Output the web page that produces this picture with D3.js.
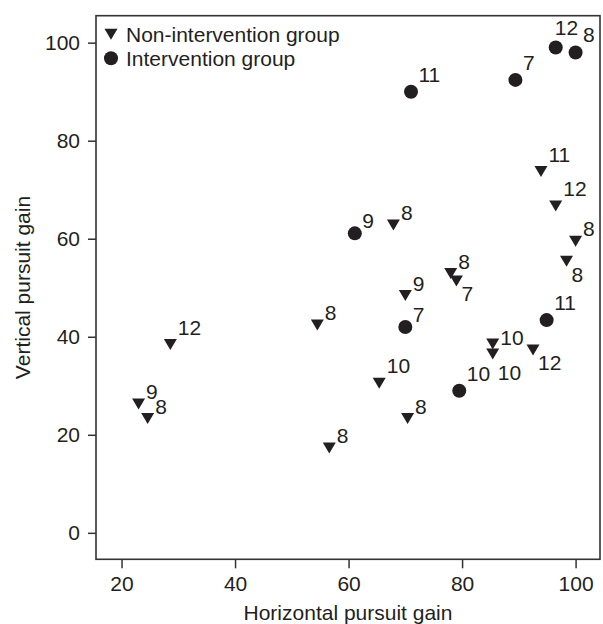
<!DOCTYPE html>
<html>
<head>
<meta charset="utf-8">
<script src="https://cdn.jsdelivr.net/npm/d3@7"></script>
<style>
  body { margin: 0; background: #fff; }
  svg { display: block; font-family: "Liberation Sans", Arial, sans-serif; }
</style>
</head>
<body>
<script>
// Non-intervention group (triangles): horizontal gain, vertical gain, age label
var nonX = [28.6, 23.0, 24.6, 54.5, 56.6, 65.4, 70.4, 70.0, 67.9, 78.0, 79.0, 85.4, 85.4, 92.5, 93.9, 96.5, 100.0, 98.4];
var nonY = [38.4, 26.3, 23.3, 42.4, 17.3, 30.5, 23.3, 48.4, 62.8, 52.9, 51.4, 38.5, 36.5, 37.3, 73.7, 66.7, 59.5, 55.4];
var nonLabel = ["12", "9", "8", "8", "8", "10", "8", "9", "8", "8", "7", "10", "10", "12", "11", "12", "8", "8"];
var nonPos = ["b", "a", "a", "a", "a", "b", "a", "a", "a", "a", "c", "e", "f", "c", "b", "b", "a", "c"];

// Intervention group (circles)
var intX = [71.0, 89.4, 96.5, 100.0, 61.1, 70.0, 94.9, 79.5];
var intY = [90.0, 92.4, 99.0, 98.0, 61.1, 42.0, 43.4, 29.0];
var intLabel = ["11", "7", "12", "8", "9", "7", "11", "10"];
var intPos = ["b", "b", "d", "b", "a", "a", "b", "b"];

var xTicks = [20, 40, 60, 80, 100];
var yTicks = [0, 20, 40, 60, 80, 100];
var legendLabels = ["Non-intervention group", "Intervention group"];

// label placement around a point (text anchor offset, baseline offset)
var labelOffset = {
  a: [7.5, -5],
  b: [7.5, -10],
  c: [5, 20.5],
  d: [-1, -12.5],
  e: [7.5, 1],
  f: [5, 26]
};

var svgWidth = 603;
var svgHeight = 624;
var ink = "#231f20";
var fontSize = 21;

// plot box
var box = { left: 96, right: 600, top: 15.7, bottom: 559.3 };

var svg = d3.select("body")
  .append("svg")
  .attr("width", svgWidth)
  .attr("height", svgHeight);

var xScale = d3.scaleLinear()
  .domain([15.5, 104.3])
  .range([box.left, box.right]);

var yScale = d3.scaleLinear()
  .domain([-5.4, 105.5])
  .range([box.bottom, box.top]);

// axes
var bottomAxis = d3.axisBottom(xScale).tickValues(xTicks).tickSize(9).tickPadding(8);
var leftAxis = d3.axisLeft(yScale).tickValues(yTicks).tickSize(8).tickPadding(8);

var xg = svg.append("g")
  .attr("transform", "translate(0," + box.bottom + ")")
  .call(bottomAxis);

var yg = svg.append("g")
  .attr("transform", "translate(" + box.left + ",0)")
  .call(leftAxis);

[xg, yg].forEach(function (g) {
  g.select(".domain").remove();
  g.selectAll("line").attr("stroke", "#333").attr("stroke-width", 1.5);
  g.selectAll("text")
    .attr("fill", ink)
    .attr("font-size", fontSize)
    .attr("font-family", "Liberation Sans, Arial, sans-serif");
});

// frame
svg.append("rect")
  .attr("x", box.left)
  .attr("y", box.top)
  .attr("width", box.right - box.left)
  .attr("height", box.bottom - box.top)
  .attr("fill", "none")
  .attr("stroke", "#333")
  .attr("stroke-width", 1.6);

// down-pointing triangle centred on its bounding box
var downTriangle = {
  draw: function (context, size) {
    var w = 6.5, h = 5.5;
    context.moveTo(-w, -h);
    context.lineTo(w, -h);
    context.lineTo(0, h);
    context.closePath();
  }
};
var triPath = d3.symbol().type(downTriangle)();

var nonData = nonX.map(function (d, i) {
  return { x: d, y: nonY[i], label: nonLabel[i], pos: nonPos[i] };
});
var intData = intX.map(function (d, i) {
  return { x: d, y: intY[i], label: intLabel[i], pos: intPos[i] };
});

svg.append("g").selectAll("path")
  .data(nonData)
  .enter()
  .append("path")
  .attr("d", triPath)
  .attr("transform", d => "translate(" + xScale(d.x) + "," + yScale(d.y) + ")")
  .attr("fill", ink);

svg.append("g").selectAll("circle")
  .data(intData)
  .enter()
  .append("circle")
  .attr("cx", d => xScale(d.x))
  .attr("cy", d => yScale(d.y))
  .attr("r", 7)
  .attr("fill", ink);

// point labels
svg.append("g").selectAll("text")
  .data(nonData.concat(intData))
  .enter()
  .append("text")
  .attr("x", d => xScale(d.x) + labelOffset[d.pos][0])
  .attr("y", d => yScale(d.y) + labelOffset[d.pos][1])
  .attr("font-size", fontSize)
  .attr("fill", ink)
  .text(d => d.label);

// legend
var legend = svg.append("g");
legend.append("path")
  .attr("d", triPath)
  .attr("transform", "translate(111,34.3)")
  .attr("fill", ink);
legend.append("circle")
  .attr("cx", 111)
  .attr("cy", 58.3)
  .attr("r", 7)
  .attr("fill", ink);
legend.selectAll("text")
  .data(legendLabels)
  .enter()
  .append("text")
  .attr("x", 126)
  .attr("y", (d, i) => 41.7 + i * 24)
  .attr("font-size", fontSize)
  .attr("fill", ink)
  .text(d => d);

// axis titles
svg.append("text")
  .attr("x", (box.left + box.right) / 2)
  .attr("y", 620)
  .attr("text-anchor", "middle")
  .attr("font-size", fontSize)
  .attr("fill", ink)
  .text("Horizontal pursuit gain");

svg.append("text")
  .attr("transform", "translate(30," + (box.top + box.bottom) / 2 + ") rotate(-90)")
  .attr("text-anchor", "middle")
  .attr("font-size", fontSize)
  .attr("fill", ink)
  .text("Vertical pursuit gain");
</script>
</body>
</html>
